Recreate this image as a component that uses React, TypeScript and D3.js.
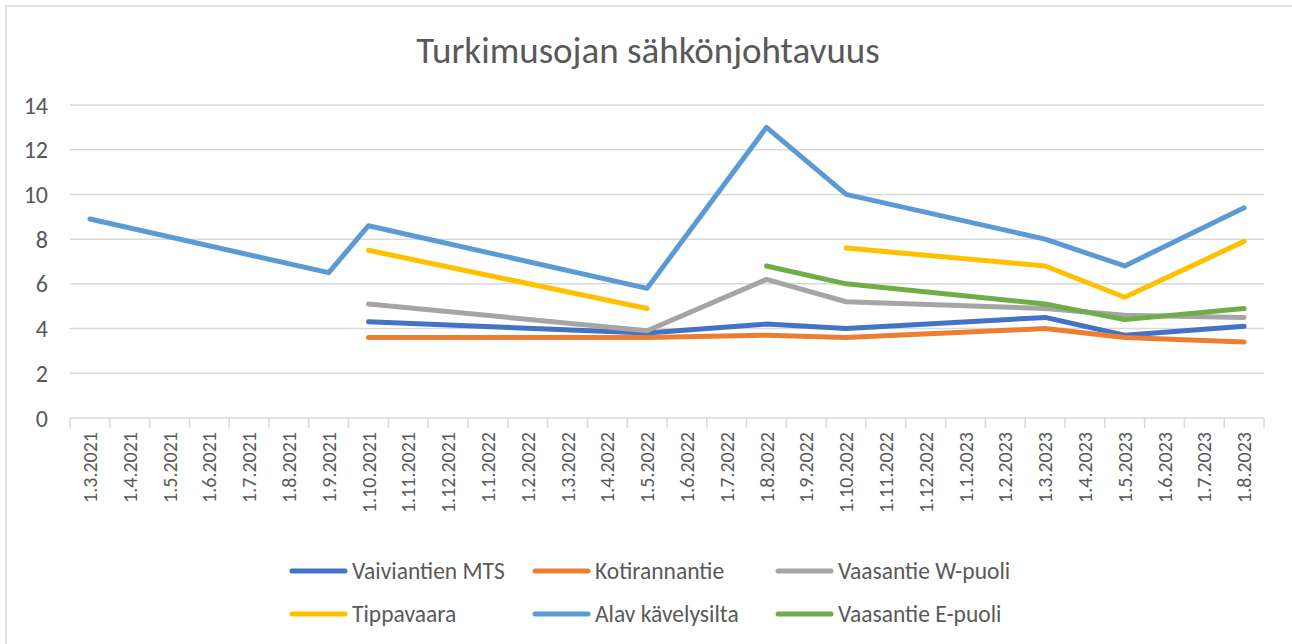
import React from 'react';
import * as d3 from 'd3';

// monthly category axis, Mar 2021 .. Aug 2023
const months = [
  '1.3.2021', '1.4.2021', '1.5.2021', '1.6.2021', '1.7.2021', '1.8.2021', '1.9.2021',
  '1.10.2021', '1.11.2021', '1.12.2021', '1.1.2022', '1.2.2022', '1.3.2022', '1.4.2022',
  '1.5.2022', '1.6.2022', '1.7.2022', '1.8.2022', '1.9.2022', '1.10.2022', '1.11.2022',
  '1.12.2022', '1.1.2023', '1.2.2023', '1.3.2023', '1.4.2023', '1.5.2023', '1.6.2023',
  '1.7.2023', '1.8.2023',
];

// measurement dates
const dates = ['1.3.2021', '1.9.2021', '1.10.2021', '1.5.2022', '1.8.2022', '1.10.2022', '1.3.2023', '1.5.2023', '1.8.2023'];

const vaiviantien = [null, null, 4.3, 3.8, 4.2, 4.0, 4.5, 3.7, 4.1];
const kotirannantie = [null, null, 3.6, 3.6, 3.7, 3.6, 4.0, 3.6, 3.4];
const vaasantieW = [null, null, 5.1, 3.9, 6.2, 5.2, 4.9, 4.6, 4.5];
const tippavaara = [null, null, 7.5, 4.9, null, 7.6, 6.8, 5.4, 7.9];
const alavKavelysilta = [8.9, 6.5, 8.6, 5.8, 13.0, 10.0, 8.0, 6.8, 9.4];
const vaasantieE = [null, null, null, null, 6.8, 6.0, 5.1, 4.4, 4.9];

const yTicks = [0, 2, 4, 6, 8, 10, 12, 14];

const series = [
  { name: 'Vaiviantien MTS', values: vaiviantien, color: '#4472C4' },
  { name: 'Kotirannantie', values: kotirannantie, color: '#ED7D31' },
  { name: 'Vaasantie W-puoli', values: vaasantieW, color: '#A5A5A5' },
  { name: 'Tippavaara', values: tippavaara, color: '#FFC000' },
  { name: 'Alav kävelysilta', values: alavKavelysilta, color: '#5B9BD5' },
  { name: 'Vaasantie E-puoli', values: vaasantieE, color: '#70AD47' },
];

const W = 1292;
const H = 644;
const plot = { left: 70, right: 1264, top: 105, bottom: 418 };
const font = 'Carlito, Calibri, Lato, sans-serif';
const textColor = '#595959';
const gridColor = '#D9D9D9';

const x = d3.scaleBand<string>().domain(months).range([plot.left, plot.right]);
const y = d3.scaleLinear().domain([0, 14]).range([plot.bottom, plot.top]);

const line = d3
  .line<number | null>()
  .defined((d) => d != null)
  .x((d, i) => (x(dates[i]) as number) + x.bandwidth() / 2)
  .y((d) => y(d as number));

// legend slots: 3 columns x 2 rows
const legendCols = [292, 535, 778];
const legendRows = [571, 614];

export default function App() {
  return (
    <svg
      width={W}
      height={H}
      style={{ position: 'absolute', left: 0, top: 0, display: 'block', background: '#fff' }}
      fontFamily={font}
    >
      <rect x={6} y={6} width={W + 20} height={H + 20} fill="#fff" stroke={gridColor} strokeWidth={1.5} />

      <text x={648} y={50} textAnchor="middle" dominantBaseline="central" fontSize={37} fill={textColor}>
        Turkimusojan sähkönjohtavuus
      </text>

      {/* gridlines + y labels */}
      {yTicks.map((t) => (
        <g key={t}>
          <line x1={plot.left} x2={plot.right} y1={y(t)} y2={y(t)} stroke={gridColor} strokeWidth={1.5} />
          <text x={48} y={y(t)} textAnchor="end" dominantBaseline="central" fontSize={24} fill={textColor}>
            {t}
          </text>
        </g>
      ))}

      {/* category tick marks */}
      {d3.range(months.length + 1).map((i) => {
        const xx = plot.left + i * x.step();
        return <line key={i} x1={xx} x2={xx} y1={plot.bottom} y2={plot.bottom + 10} stroke={gridColor} strokeWidth={1.5} />;
      })}

      {months.map((m) => {
        const cx = (x(m) as number) + x.bandwidth() / 2;
        return (
          <text
            key={m}
            transform={`translate(${cx}, 432) rotate(-90)`}
            textAnchor="end"
            dominantBaseline="central"
            fontSize={20}
            fill={textColor}
          >
            {m}
          </text>
        );
      })}

      {series.map((s) => (
        <path
          key={s.name}
          d={line(s.values) || ''}
          fill="none"
          stroke={s.color}
          strokeWidth={5}
          strokeLinecap="round"
          strokeLinejoin="round"
        />
      ))}

      {series.map((s, i) => {
        const lx = legendCols[i % 3];
        const ly = legendRows[Math.floor(i / 3)];
        return (
          <g key={s.name}>
            <line x1={lx} x2={lx + 53} y1={ly} y2={ly} stroke={s.color} strokeWidth={5} strokeLinecap="round" />
            <text x={lx + 60} y={ly} dominantBaseline="central" fontSize={23.5} fill={textColor}>
              {s.name}
            </text>
          </g>
        );
      })}
    </svg>
  );
}
